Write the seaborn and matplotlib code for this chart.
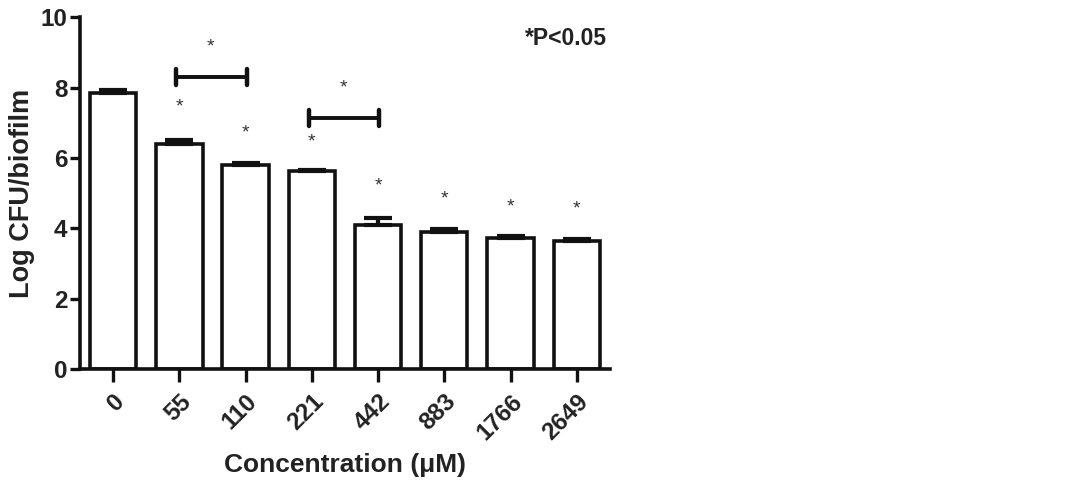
import matplotlib
matplotlib.use("Agg")
import matplotlib.pyplot as plt
import seaborn as sns
import pandas as pd

concentrations = ["0", "55", "110", "221", "442", "883", "1766", "2649"]
log_cfu = [7.85, 6.39, 5.79, 5.63, 4.09, 3.90, 3.73, 3.64]
sem = [0.07, 0.11, 0.08, 0.02, 0.20, 0.07, 0.05, 0.06]
star_y = [None, 7.44, 6.70, 6.45, 5.20, 4.83, 4.60, 4.55]
brackets = [(1, 2, 8.30, 9.15), (3, 4, 7.13, 8.0)]

sns.set_style("ticks")
plt.rcParams['font.family'] = ['Liberation Sans', 'DejaVu Sans']
plt.rcParams['font.weight'] = 'bold'

df = pd.DataFrame({"conc": concentrations, "val": log_cfu})

fig = plt.figure(figsize=(10.68, 4.92), dpi=100)
ax = fig.add_axes([0.075, 0.25, 0.496, 0.715])

sns.barplot(data=df, x="conc", y="val", order=concentrations, ax=ax,
            color="white", edgecolor="#111111", linewidth=2.6, width=0.7,
            errorbar=None, saturation=1)

xs = list(range(len(concentrations)))
ax.errorbar(xs, log_cfu, yerr=[[0] * len(sem), sem], fmt="none",
            ecolor="#111111", elinewidth=3, capsize=10, capthick=3, zorder=3)

for x, y in zip(xs, star_y):
    if y is not None:
        ax.text(x, y, "*", ha="center", va="center", fontsize=14,
                color="#333333", fontweight="normal")

for a, b, yb, ys in brackets:
    ax.plot([a - 0.05, b + 0.02], [yb, yb], color="#111111", lw=2.8)
    ax.plot([a - 0.05, a - 0.05], [yb - 0.22, yb + 0.22], color="#111111", lw=3.2)
    ax.plot([b + 0.02, b + 0.02], [yb - 0.22, yb + 0.22], color="#111111", lw=3.2)
    ax.text((a + b) / 2 - 0.03, ys, "*", ha="center", va="center", fontsize=14,
            color="#333333", fontweight="normal")

ax.text(7.45, 9.4, "*P<0.05", ha="right", va="center", fontsize=16.5,
        fontweight="bold", color="#222222")

ax.set_xlim(-0.5, 7.5)
ax.set_ylim(0, 10)
ax.set_yticks([0, 2, 4, 6, 8, 10])
ax.set_xlabel("Concentration (\u03bcM)", fontsize=19, fontweight="bold",
              color="#222222", labelpad=6)
ax.set_ylabel("Log CFU/biofilm", fontsize=19.5, fontweight="bold",
              color="#222222", labelpad=4)
ax.tick_params(axis="both", labelsize=17.5, width=2.4, length=7, color="#111111",
               labelcolor="#222222", pad=2)
ax.tick_params(axis="x", length=9, pad=6)
for lab in ax.get_xticklabels():
    lab.set_rotation(45)
    lab.set_ha("right")
    lab.set_rotation_mode("anchor")
    lab.set_fontweight("bold")
for lab in ax.get_yticklabels():
    lab.set_fontweight("bold")
for s in ["left", "bottom"]:
    ax.spines[s].set_linewidth(2.6)
    ax.spines[s].set_color("#111111")
sns.despine(ax=ax)

fig.savefig("out.png", dpi=100)
